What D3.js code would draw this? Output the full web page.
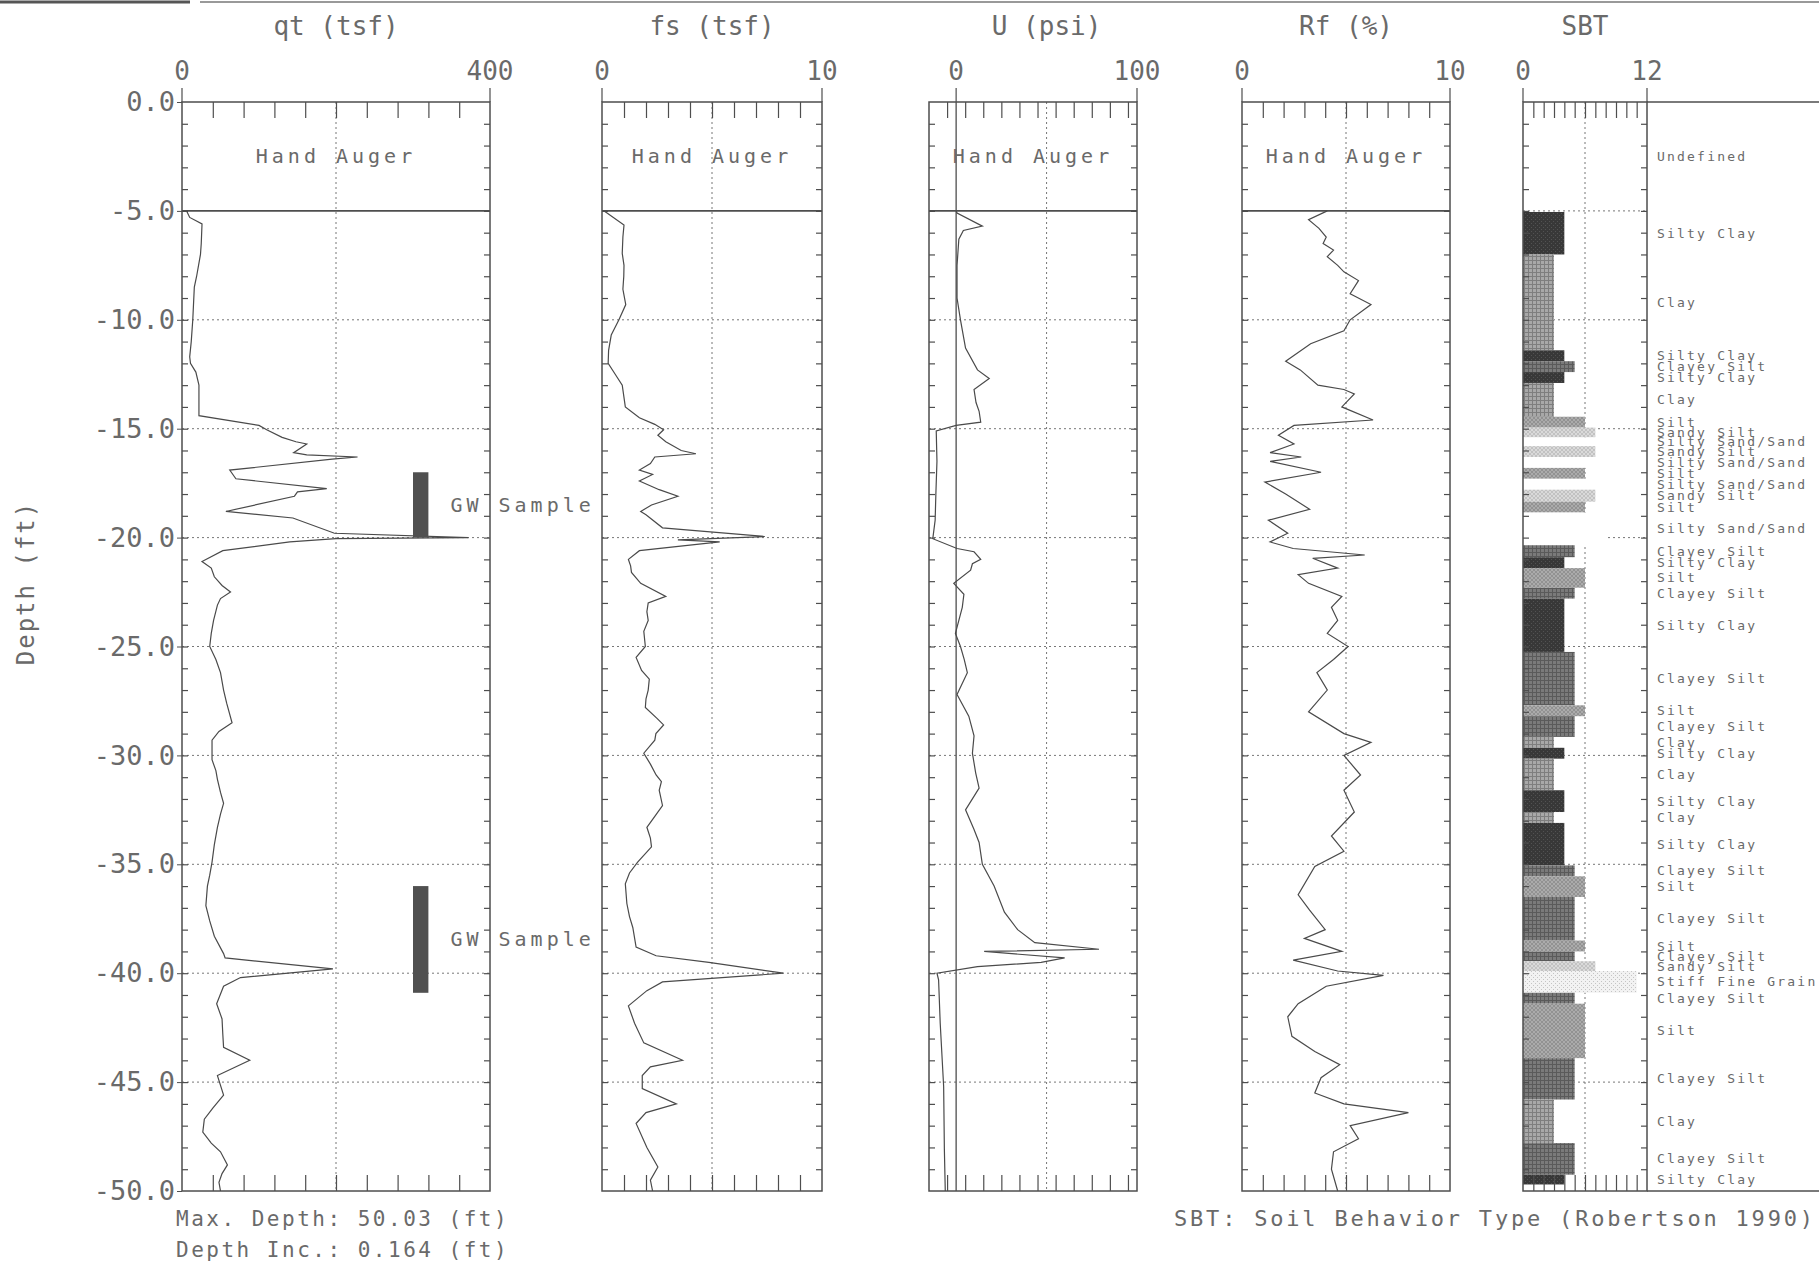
<!DOCTYPE html>
<html>
<head>
<meta charset="utf-8">
<script src="https://cdn.jsdelivr.net/npm/d3@7"></script>
<style>
  body { margin: 0; background: #fff; }
  text { font-family: "DejaVu Sans Mono", monospace; fill: #6a6a6a; }
</style>
</head>
<body>
<svg id="chart" width="1819" height="1263"></svg>
<script>
// ---- data (depth ft, value) ----
const qtData = [[5.0,6],[5.3,10],[5.6,26],[6.5,25],[7.0,24],[8.0,19],[8.5,16],[10.0,14],[11.0,12],[11.7,10],[12.0,11],[12.4,18],[13.0,22],[14.4,22],[14.85,100],[15.05,110],[15.4,130],[15.6,148],[15.7,162],[16.1,145],[16.2,162],[16.3,228],[16.4,195],[16.9,62],[17.3,70],[17.75,188],[17.9,150],[18.1,146],[18.8,57],[19.1,144],[19.8,198],[20.0,372],[20.05,200],[20.2,140],[20.6,53],[21.1,26],[21.4,38],[21.8,42],[22.2,52],[22.5,63],[22.8,50],[23.1,46],[23.8,41],[24.4,38],[25.0,36],[25.6,44],[26.2,50],[27.0,54],[27.6,58],[28.5,65],[28.9,48],[29.3,39],[30.2,39],[30.7,44],[31.1,46],[31.7,50],[32.2,54],[32.7,50],[33.3,46],[34.1,42],[34.9,39],[35.5,36],[36.0,33],[36.9,31],[37.6,36],[38.3,42],[39.1,54],[39.3,56],[39.8,196],[40.2,76],[40.6,54],[41.4,45],[42.1,52],[42.8,53],[43.4,54],[44.0,88],[44.7,46],[45.6,54],[46.2,40],[46.7,29],[47.3,27],[47.8,38],[48.2,50],[48.8,59],[49.2,52],[49.6,48],[50.0,50]]

const fsData = [[5.0,0.1],[5.65,1.0],[6.2,0.95],[6.95,0.92],[7.5,1.0],[8.0,0.99],[8.6,0.95],[9.3,1.08],[10.0,0.77],[10.7,0.42],[11.4,0.3],[12.0,0.28],[12.5,0.6],[13.0,0.92],[14.0,1.06],[14.5,1.7],[14.8,2.4],[15.05,2.8],[15.3,2.54],[15.6,2.9],[16.0,3.6],[16.15,4.27],[16.3,2.4],[16.6,2.2],[16.9,1.7],[17.1,2.3],[17.4,1.7],[17.8,2.6],[18.1,3.45],[18.5,2.25],[18.8,1.76],[18.95,2.0],[19.55,2.75],[19.95,7.4],[20.1,3.45],[20.2,5.35],[20.6,1.7],[21.0,1.2],[21.3,1.3],[21.6,1.34],[22.1,1.76],[22.7,2.9],[23.0,2.1],[23.4,2.04],[23.8,2.1],[24.3,1.9],[25.0,1.97],[25.5,1.55],[26.1,1.8],[26.5,2.15],[27.0,2.1],[27.4,2.0],[27.8,1.97],[28.3,2.5],[28.6,2.8],[29.0,2.45],[29.3,2.4],[29.9,1.9],[30.4,2.2],[30.9,2.46],[31.2,2.7],[31.6,2.6],[32.3,2.75],[32.8,2.4],[33.3,2.04],[33.8,2.2],[34.2,2.25],[34.9,1.62],[35.4,1.25],[35.9,1.06],[36.8,1.13],[37.4,1.25],[37.9,1.4],[38.8,1.55],[39.2,2.46],[39.5,4.86],[40.0,8.24],[40.4,2.75],[40.8,2.04],[41.5,1.2],[42.3,1.48],[43.2,1.9],[44.0,3.66],[44.3,2.2],[44.7,1.83],[45.3,1.83],[46.0,3.38],[46.4,2.0],[46.9,1.55],[48.0,2.04],[48.9,2.54],[49.5,2.2],[50.0,2.3]]

const uData = [[5.0,0],[5.1,0.5],[5.7,14.5],[5.9,4],[6.3,1.5],[7.5,0.5],[9.0,0.5],[10.0,2.4],[11.3,5.2],[12.3,11.8],[12.7,18.3],[13.2,9.9],[13.8,11],[14.2,12.7],[14.7,13.6],[14.85,0],[15.1,-11],[16.5,-10.6],[18.0,-11.2],[19.2,-11.6],[20.05,-12.9],[20.5,0.5],[20.65,9.9],[21.0,13.6],[21.2,9],[21.5,8],[22.1,-1.3],[22.6,4.3],[23.2,3.4],[24.4,-0.4],[25.0,2.4],[25.6,4.5],[26.2,6.2],[27.2,0.5],[28.2,7],[29.1,9.9],[29.9,9],[30.8,10.8],[31.5,12.7],[32.5,5.2],[33.4,9.9],[34.0,12.7],[35.0,14.5],[36.0,21],[37.2,26.7],[38.0,34],[38.6,43.5],[38.9,79],[39.0,15.5],[39.3,60],[39.5,47],[39.7,11.8],[40.0,-10.6],[40.3,-9.7],[42.3,-8.8],[45.2,-6.9],[48.1,-6.5],[50.0,-6]]

const rfData = [[5.0,4.1],[5.4,3.2],[5.8,3.7],[6.2,4.05],[6.5,3.9],[6.8,4.4],[7.1,4.1],[7.5,4.6],[7.8,4.9],[8.2,5.6],[8.8,5.2],[9.3,6.2],[10.0,5.2],[10.5,4.9],[11.1,3.3],[11.9,2.1],[12.3,2.8],[13.0,3.65],[13.2,4.9],[13.4,5.4],[14.0,4.8],[14.6,6.3],[14.85,2.5],[15.3,1.75],[15.7,2.5],[16.1,1.35],[16.3,2.85],[16.5,1.35],[17.0,3.8],[17.45,1.1],[18.0,2.1],[18.7,3.25],[19.2,1.27],[19.8,2.2],[20.2,1.35],[20.5,2.46],[20.8,5.9],[20.95,3.4],[21.4,4.6],[21.7,2.7],[22.1,3.2],[22.7,4.8],[23.2,4.3],[23.8,4.6],[24.4,4.1],[25.0,5.1],[25.6,4.4],[26.2,3.6],[27.0,4.1],[28.0,3.2],[29.0,4.9],[29.4,6.2],[30.0,4.9],[30.9,5.7],[31.6,4.9],[32.6,5.4],[33.7,4.3],[34.4,4.9],[35.1,3.5],[36.4,2.7],[37.1,3.25],[38.0,4.0],[38.4,3.0],[39.0,4.8],[39.4,2.46],[39.9,4.6],[40.1,6.8],[40.6,4.05],[41.4,2.7],[42.0,2.2],[42.9,2.4],[43.6,3.5],[44.2,4.7],[44.8,3.8],[45.5,3.5],[46.0,4.9],[46.4,8.0],[47.0,5.2],[47.6,5.6],[48.2,4.4],[49.0,4.3],[50.0,4.6]]

// groundwater samples (depth range, qt position)
const gwTop = [17.0, 36.0]
const gwBase = [20.0, 40.9]
const gwRange = [300, 320]

// soil behaviour type layers
const sbtTop = [5.05,7.0,11.4,11.9,12.4,12.9,14.45,14.95,15.4,15.8,16.3,16.8,17.3,17.8,18.35,18.85,20.35,20.9,21.4,22.3,22.8,25.25,27.7,28.2,29.15,29.65,30.15,31.6,32.6,33.1,35.05,35.55,36.5,38.5,39.0,39.45,39.9,40.9,41.4,43.9,45.8,47.8,49.25]
const sbtBase = [7.0,11.4,11.9,12.4,12.9,14.45,14.95,15.4,15.8,16.3,16.8,17.3,17.8,18.35,18.85,20.35,20.9,21.4,22.3,22.8,25.25,27.7,28.2,29.15,29.65,30.15,31.6,32.6,33.1,35.05,35.55,36.5,38.5,39.0,39.45,39.9,40.9,41.4,43.9,45.8,47.8,49.25,49.7]
const sbtType = ['Silty Clay','Clay','Silty Clay','Clayey Silt','Silty Clay','Clay','Silt','Sandy Silt','Silty Sand/Sand','Sandy Silt','Silty Sand/Sand','Silt','Silty Sand/Sand','Sandy Silt','Silt','Silty Sand/Sand','Clayey Silt','Silty Clay','Silt','Clayey Silt','Silty Clay','Clayey Silt','Silt','Clayey Silt','Clay','Silty Clay','Clay','Silty Clay','Clay','Silty Clay','Clayey Silt','Silt','Clayey Silt','Silt','Clayey Silt','Sandy Silt','Stiff Fine Grain','Clayey Silt','Silt','Clayey Silt','Clay','Clayey Silt','Silty Clay']
const sbtZone = {'Clay': 3, 'Silty Clay': 4, 'Clayey Silt': 5, 'Silt': 6, 'Sandy Silt': 7, 'Silty Sand/Sand': 8, 'Stiff Fine Grain': 11}

const depthTicks = d3.range(0, 51, 5)

// ---- layout ----
const svg = d3.select('#chart')
const plotTop = 102, plotBottom = 1191
const y = d3.scaleLinear().domain([0, 50]).range([plotTop, plotBottom])
const ink = '#4e4e4e'

const panels = [
  { title: 'qt (tsf)', x0: 182, x1: 490, lo: 0, hi: 400, step: 40, data: qtData, auger: true },
  { title: 'fs (tsf)', x0: 602, x1: 822, lo: 0, hi: 10, step: 1, data: fsData, auger: true },
  { title: 'U (psi)', x0: 929, x1: 1137, lo: -15, hi: 100, step: 10, data: uData, auger: true, zero: true },
  { title: 'Rf (%)', x0: 1242, x1: 1450, lo: 0, hi: 10, step: 1, data: rfData, auger: true },
  { title: 'SBT', x0: 1523, x1: 1647, lo: 0, hi: 12, step: 1, sbt: true }
]

// patterns for the SBT fills
const defs = svg.append('defs')
function pattern(id, base, mark, kind) {
  const p = defs.append('pattern').attr('id', id).attr('patternUnits', 'userSpaceOnUse')
    .attr('width', 4).attr('height', 4)
  p.append('rect').attr('width', 4).attr('height', 4).attr('fill', base)
  if (kind === 'grid') {
    p.append('rect').attr('x', 0).attr('y', 0).attr('width', 1).attr('height', 4).attr('fill', mark)
    p.append('rect').attr('x', 0).attr('y', 0).attr('width', 4).attr('height', 1).attr('fill', mark)
  } else if (kind === 'dots') {
    p.append('rect').attr('x', 1).attr('y', 1).attr('width', 1).attr('height', 1).attr('fill', mark)
    p.append('rect').attr('x', 3).attr('y', 3).attr('width', 1).attr('height', 1).attr('fill', mark)
  } else if (kind === 'cross') {
    p.append('path').attr('d', 'M0,0L4,4M4,0L0,4').attr('stroke', mark).attr('stroke-width', 0.8)
  }
}
pattern('p-clay', '#a8a8a8', '#7e7e7e', 'grid')
pattern('p-siltyclay', '#383838', '#525252', 'dots')
pattern('p-clayeysilt', '#7a7a7a', '#5a5a5a', 'grid')
pattern('p-silt', '#ababab', '#8c8c8c', 'cross')
pattern('p-sandysilt', '#dadada', '#bcbcbc', 'cross')
pattern('p-stiff', '#f2f2f2', '#c4c4c4', 'dots')
const sbtFill = {
  'Clay': 'url(#p-clay)', 'Silty Clay': 'url(#p-siltyclay)', 'Clayey Silt': 'url(#p-clayeysilt)',
  'Silt': 'url(#p-silt)', 'Sandy Silt': 'url(#p-sandysilt)', 'Silty Sand/Sand': '#ffffff',
  'Stiff Fine Grain': 'url(#p-stiff)'
}

// scan border at the very top
svg.append('line').attr('x1', 0).attr('x2', 190).attr('y1', 2).attr('y2', 2)
  .attr('stroke', '#555').attr('stroke-width', 3)
svg.append('line').attr('x1', 200).attr('x2', 1819).attr('y1', 2).attr('y2', 2)
  .attr('stroke', '#999').attr('stroke-width', 2)

panels.forEach(p => {
  const x = d3.scaleLinear().domain([p.lo, p.hi]).range([p.x0, p.x1])
  const zeroX = x(0), hiX = x(p.hi)
  const g = svg.append('g')

  // dotted grid
  const gridDepths = depthTicks.filter(d => d > 0 && d < 50 && !(p.auger && d === 5))
  g.selectAll('.hgrid').data(gridDepths).enter().append('line')
    .attr('x1', p.x0).attr('x2', p.x1).attr('y1', d => y(d)).attr('y2', d => y(d))
    .attr('stroke', '#777').attr('stroke-width', 1).attr('stroke-dasharray', '2,3')
  g.append('line').attr('x1', x(p.hi / 2)).attr('x2', x(p.hi / 2)).attr('y1', plotTop).attr('y2', plotBottom)
    .attr('stroke', '#777').attr('stroke-width', 1).attr('stroke-dasharray', '2,3')

  // SBT bars
  if (p.sbt) {
    g.selectAll('.bar').data(sbtType).enter().append('rect')
      .attr('x', x(0)).attr('width', t => x(sbtZone[t]) - x(0))
      .attr('y', (t, i) => y(sbtTop[i])).attr('height', (t, i) => y(sbtBase[i]) - y(sbtTop[i]))
      .attr('fill', t => sbtFill[t])
    // label column
    svg.append('line').attr('x1', p.x1).attr('x2', 1819).attr('y1', plotTop).attr('y2', plotTop)
      .attr('stroke', ink).attr('stroke-width', 1.5)
    svg.append('line').attr('x1', p.x1).attr('x2', 1819).attr('y1', plotBottom).attr('y2', plotBottom)
      .attr('stroke', ink).attr('stroke-width', 1.5)
    svg.append('text').attr('x', p.x1 + 10).attr('y', y(2.5)).attr('dy', '0.35em')
      .attr('font-size', 13).attr('letter-spacing', 2.2).text('Undefined')
    svg.selectAll('.sbtlab').data(sbtType).enter().append('text')
      .attr('x', p.x1 + 10).attr('y', (t, i) => y((sbtTop[i] + sbtBase[i]) / 2)).attr('dy', '0.35em')
      .attr('font-size', 13).attr('letter-spacing', 2.2).text(t => t)
  }

  // frame
  g.append('rect').attr('x', p.x0).attr('y', plotTop).attr('width', p.x1 - p.x0).attr('height', plotBottom - plotTop)
    .attr('fill', 'none').attr('stroke', ink).attr('stroke-width', 1.5)

  // tick marks along each edge
  const xt = d3.range(p.lo, p.hi + 1e-9, p.step).filter(v => v > p.lo + 1e-9 && v < p.hi - 1e-9)
  const minor = d3.range(1, 50)
  const axisStyle = sel => { sel.select('.domain').remove(); sel.selectAll('text').remove()
    sel.selectAll('line').attr('stroke', ink).attr('stroke-width', 1.2) }
  g.append('g').attr('transform', `translate(0,${plotTop})`)
    .call(d3.axisBottom(x).tickValues(xt).tickSize(16)).call(axisStyle)
  g.append('g').attr('transform', `translate(0,${plotBottom})`)
    .call(d3.axisTop(x).tickValues(xt).tickSize(16)).call(axisStyle)
  g.append('g').attr('transform', `translate(${p.x0},0)`)
    .call(d3.axisRight(y).tickValues(minor).tickSize(6)).call(axisStyle)
  g.append('g').attr('transform', `translate(${p.x1},0)`)
    .call(d3.axisLeft(y).tickValues(minor).tickSize(6)).call(axisStyle)

  if (p.zero) {
    g.append('line').attr('x1', zeroX).attr('x2', zeroX).attr('y1', plotTop).attr('y2', plotBottom)
      .attr('stroke', ink).attr('stroke-width', 1.3)
  }

  // hand auger zone
  if (p.auger) {
    g.append('line').attr('x1', p.x0).attr('x2', p.x1).attr('y1', y(5)).attr('y2', y(5))
      .attr('stroke', ink).attr('stroke-width', 1.6)
    g.append('text').attr('x', (p.x0 + p.x1) / 2).attr('y', y(2.5)).attr('dy', '0.35em')
      .attr('text-anchor', 'middle').attr('font-size', 20).attr('letter-spacing', 4).text('Hand Auger')
  }

  // trace
  if (p.data) {
    const line = d3.line().x(d => x(d[1])).y(d => y(d[0]))
    g.append('path').datum(p.data).attr('d', line)
      .attr('fill', 'none').attr('stroke', '#4a4a4a').attr('stroke-width', 1.2)
  }

  // titles and scale labels
  svg.append('text').attr('x', (zeroX + hiX) / 2).attr('y', 35).attr('text-anchor', 'middle')
    .attr('font-size', 26).text(p.title)
  svg.append('text').attr('x', zeroX).attr('y', 80).attr('text-anchor', 'middle')
    .attr('font-size', 26).text('0')
  svg.append('text').attr('x', hiX).attr('y', 80).attr('text-anchor', 'middle')
    .attr('font-size', 26).text(p.hi)
  // small vertical stubs above the frame at 0 and max
  svg.append('line').attr('x1', zeroX).attr('x2', zeroX).attr('y1', 88).attr('y2', plotTop)
    .attr('stroke', ink).attr('stroke-width', 1.2)
  svg.append('line').attr('x1', hiX).attr('x2', hiX).attr('y1', 88).attr('y2', plotTop)
    .attr('stroke', ink).attr('stroke-width', 1.2)

  // GW samples on the qt panel
  if (p.title.startsWith('qt')) {
    g.selectAll('.gw').data(gwTop).enter().append('rect')
      .attr('x', x(gwRange[0])).attr('width', x(gwRange[1]) - x(gwRange[0]))
      .attr('y', d => y(d)).attr('height', (d, i) => y(gwBase[i]) - y(d))
      .attr('fill', '#505050')
    g.selectAll('.gwlab').data(gwTop).enter().append('text')
      .attr('x', x(gwRange[1]) + 22).attr('y', (d, i) => y((d + gwBase[i]) / 2)).attr('dy', '0.35em')
      .attr('font-size', 20).attr('letter-spacing', 4).text('GW Sample')
  }
})

// depth axis
const depthAxis = svg.append('g').attr('transform', `translate(${panels[0].x0},0)`)
  .call(d3.axisLeft(y).tickValues(depthTicks).tickSize(5).tickPadding(2)
    .tickFormat(d => d === 0 ? '0.0' : '-' + d.toFixed(1)))
depthAxis.select('.domain').remove()
depthAxis.selectAll('line').attr('stroke', ink)
depthAxis.selectAll('text').attr('font-size', 27).attr('font-family', '"DejaVu Sans Mono", monospace')
  .attr('fill', '#6a6a6a')

svg.append('text').attr('transform', 'translate(34,583) rotate(-90)').attr('text-anchor', 'middle')
  .attr('font-size', 24).attr('letter-spacing', 2).text('Depth (ft)')

// footer notes
svg.append('text').attr('x', 176).attr('y', 1226).attr('font-size', 21).attr('letter-spacing', 2.5)
  .text('Max. Depth: 50.03 (ft)')
svg.append('text').attr('x', 176).attr('y', 1257).attr('font-size', 21).attr('letter-spacing', 2.5)
  .text('Depth Inc.: 0.164 (ft)')
svg.append('text').attr('x', 1174).attr('y', 1226).attr('font-size', 22).attr('letter-spacing', 2.8)
  .text('SBT: Soil Behavior Type (Robertson 1990)')
</script>
</body>
</html>
